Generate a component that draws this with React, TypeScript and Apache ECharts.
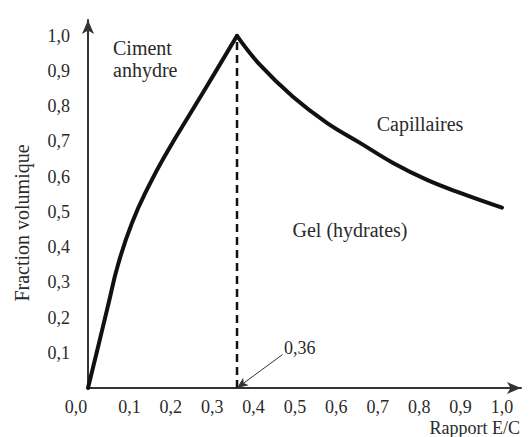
import React, { useEffect, useRef } from "react";
import * as echarts from "echarts";

// Rising branch: anhydrous cement boundary (x = E/C ratio, y = volume fraction)
const riseX = [0, 0.025, 0.049, 0.073, 0.106, 0.146, 0.194, 0.25, 0.305, 0.36];
const riseY = [0, 0.12, 0.237, 0.352, 0.468, 0.572, 0.676, 0.785, 0.892, 1.0];

// Falling branch: capillaries boundary
const fallX = [0.36, 0.415, 0.495, 0.577, 0.657, 0.737, 0.819, 0.899, 1.0];
const fallY = [1.0, 0.918, 0.827, 0.753, 0.696, 0.639, 0.591, 0.554, 0.512];

// Critical ratio
const criticalX = 0.36;
const criticalLabel = "0,36";

// Tick values
const xTicks = [0, 0.1, 0.2, 0.3, 0.4, 0.5, 0.6, 0.7, 0.8, 0.9, 1.0];
const yTicks = [0.1, 0.2, 0.3, 0.4, 0.5, 0.6, 0.7, 0.8, 0.9, 1.0];

const regionLabels = ["Ciment\nanhydre", "Capillaires", "Gel (hydrates)"];
const xAxisTitle = "Rapport E/C";
const yAxisTitle = "Fraction volumique";

const FONT = "serif";
const TEXT = "#2a2a2a";
const LINE = "#111";

const fmt = (v: number) => v.toFixed(1).replace(".", ",");
const near = (v: number, arr: number[]) => arr.some((t) => Math.abs(t - v) < 1e-6);

export default function App() {
  const ref = useRef<HTMLDivElement>(null);

  useEffect(() => {
    if (!ref.current) return;
    const chart = echarts.init(ref.current, undefined, { renderer: "svg" });

    const rise = riseX.map((x, i) => [x, riseY[i]]);
    const fall = fallX.map((x, i) => [x, fallY[i]]);
    const peakY = riseY[riseY.length - 1];

    const txt = (size: number, extra: any = {}) => ({
      font: `${size}px "Liberation Serif", serif`,
      fill: TEXT,
      ...extra,
    });

    chart.setOption({
      animation: false,
      backgroundColor: "#fff",
      textStyle: { fontFamily: FONT },
      grid: { left: 88, right: 8, top: 20, bottom: 49, containLabel: false },
      xAxis: {
        type: "value",
        min: 0,
        max: 1.046,
        interval: 0.1,
        splitLine: { show: false },
        axisTick: { show: false },
        axisLine: {
          show: true,
          onZero: false,
          symbol: ["none", "arrow"],
          symbolSize: [9, 14],
          lineStyle: { color: "#333", width: 2 },
        },
        axisLabel: {
          margin: 10,
          showMaxLabel: false,
          fontFamily: FONT,
          fontSize: 18,
          color: TEXT,
          formatter: (v: number) => {
            if (!near(v, xTicks)) return "";
            if (Math.abs(v) < 1e-9) return "{z|" + fmt(v) + "}";
            return fmt(v);
          },
          rich: {
            z: { fontFamily: FONT, fontSize: 18, color: TEXT, padding: [0, 24, 0, 0] },
          },
        },
      },
      yAxis: {
        type: "value",
        min: 0,
        max: 1.045,
        interval: 0.1,
        splitLine: { show: false },
        axisTick: { show: false },
        axisLine: {
          show: true,
          onZero: false,
          symbol: ["none", "arrow"],
          symbolSize: [9, 14],
          lineStyle: { color: "#333", width: 2 },
        },
        axisLabel: {
          margin: 18,
          showMinLabel: false,
          showMaxLabel: false,
          fontFamily: FONT,
          fontSize: 18,
          color: TEXT,
          formatter: (v: number) => (near(v, yTicks) ? fmt(v) : ""),
        },
      },
      series: [
        {
          type: "line",
          data: rise,
          smooth: 0.5,
          symbol: "none",
          lineStyle: { color: LINE, width: 4, cap: "round", join: "round" },
          z: 5,
        },
        {
          type: "line",
          data: fall,
          smooth: 0.4,
          symbol: "none",
          lineStyle: { color: LINE, width: 4, cap: "round", join: "round" },
          z: 5,
        },
        {
          type: "line",
          data: [
            [criticalX, 0],
            [criticalX, peakY],
          ],
          symbol: "none",
          lineStyle: { color: LINE, width: 2.5, type: [8, 5] },
          z: 4,
          markLine: {
            silent: true,
            symbol: ["none", "arrow"],
            symbolSize: [7, 11],
            label: { show: false },
            lineStyle: { color: "#333", width: 1, type: "solid" },
            data: [
              [
                { coord: [0.47, 0.095] },
                { coord: [criticalX, 0] },
              ],
            ],
          },
        },
      ],
      graphic: [
        {
          type: "text",
          x: 113,
          y: 37,
          style: txt(20, { text: regionLabels[0], lineHeight: 22 }),
        },
        {
          type: "text",
          x: 420,
          y: 124,
          style: txt(20, { text: regionLabels[1], align: "center", verticalAlign: "middle" }),
        },
        {
          type: "text",
          x: 350,
          y: 230,
          style: txt(20, { text: regionLabels[2], align: "center", verticalAlign: "middle" }),
        },
        {
          type: "text",
          x: 284,
          y: 348,
          style: txt(18, { text: criticalLabel, align: "left", verticalAlign: "middle" }),
        },
        {
          type: "text",
          x: 520,
          y: 428,
          style: txt(18, { text: xAxisTitle, align: "right", verticalAlign: "middle" }),
        },
        {
          type: "text",
          x: 22,
          y: 223,
          rotation: Math.PI / 2,
          style: txt(20, { text: yAxisTitle, align: "center", verticalAlign: "middle" }),
        },
      ],
    });

    return () => chart.dispose();
  }, []);

  return (
    <div
      ref={ref}
      style={{ width: 529, height: 437, position: "absolute", left: 0, top: 0 }}
    />
  );
}
